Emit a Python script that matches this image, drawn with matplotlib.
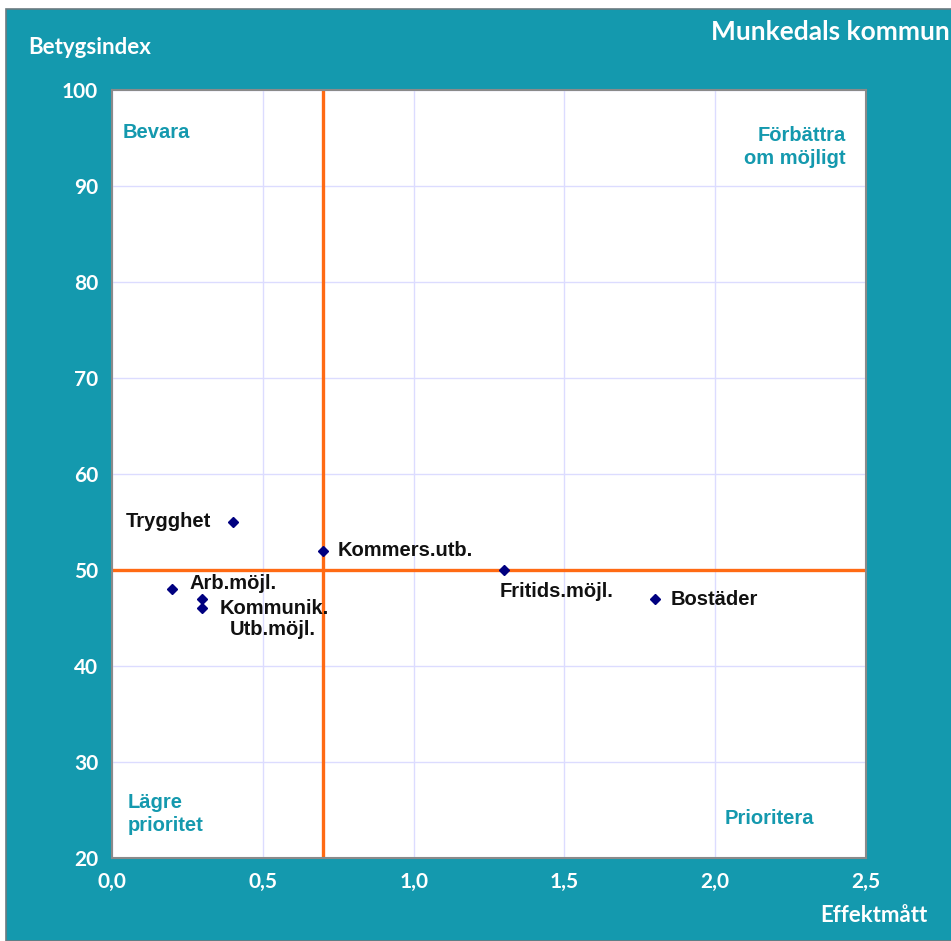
import matplotlib.pyplot as plt
from matplotlib.patches import Rectangle

# Värden
namn = ['Trygghet', 'Kommers.utb.', 'Fritids.möjl.', 'Bostäder', 'Arb.möjl.', 'Kommunik.', 'Utb.möjl.']
effekt = [0.4, 0.7, 1.3, 1.8, 0.2, 0.3, 0.3]
betyg = [55, 52, 50, 47, 48, 47, 46]
# etikettens förskjutning i pixlar och justering
forskjutning = [(-22, 0, 'right'), (15, 0, 'left'), (-4, -22, 'left'), (16, -1, 'left'),
                (17, 6, 'left'), (17, -10, 'left'), (27, -21, 'left')]
x_ticks = [0.0, 0.5, 1.0, 1.5, 2.0, 2.5]
y_ticks = [20, 30, 40, 50, 60, 70, 80, 90, 100]
medel_x = 0.7
medel_y = 50

teal = '#1499ae'
fig = plt.figure(figsize=(9.51, 9.41), dpi=100)
fig.patch.set_facecolor('white')
fig.patches.append(Rectangle((6 / 951, 0), 1, 1 - 9 / 941, transform=fig.transFigure,
                             facecolor=teal, edgecolor='#6b7a80', linewidth=1.2, zorder=-5))

ax = fig.add_axes([112 / 951, 1 - 858 / 941, 754 / 951, 768 / 941])
ax.set_facecolor('white')
ax.set_xlim(0, 2.5)
ax.set_ylim(20, 100)
ax.set_xticks(x_ticks)
ax.set_yticks(y_ticks)
ax.set_xticklabels([f'{v:.1f}'.replace('.', ',') for v in x_ticks])
ax.grid(True, color='#dcdcff', linewidth=1)
ax.set_axisbelow(True)
for s in ax.spines.values():
    s.set_color('#8a8a8a')
    s.set_linewidth(1.5)
ax.tick_params(length=0, colors='white', labelsize=15, pad=10)
for lab in ax.get_xticklabels() + ax.get_yticklabels():
    lab.set_fontfamily('Lato')
    lab.set_fontweight('bold')

ax.axvline(medel_x, color='#ff6a13', linewidth=2.4, zorder=2)
ax.axhline(medel_y, color='#ff6a13', linewidth=2.4, zorder=2)

ax.plot(effekt, betyg, linestyle='none', marker='D', markersize=5.5, color='#000080', zorder=3)
for n, x, y, (dx, dy, ha) in zip(namn, effekt, betyg, forskjutning):
    ax.annotate(n, (x, y), xytext=(dx, dy), textcoords='offset pixels', ha=ha, va='center',
                fontsize=14.5, fontweight='bold', family='Liberation Sans', color='#111111')

kv = dict(color=teal, fontsize=14.5, fontweight='bold', family='Liberation Sans')
ax.text(0.014, 0.945, 'Bevara', transform=ax.transAxes, ha='left', va='center', **kv)
ax.text(0.973, 0.926, 'Förbättra\nom möjligt', transform=ax.transAxes, ha='right', va='center',
        linespacing=1.3, **kv)
ax.text(0.021, 0.057, 'Lägre\nprioritet', transform=ax.transAxes, ha='left', va='center',
        linespacing=1.3, **kv)
ax.text(0.931, 0.051, 'Prioritera', transform=ax.transAxes, ha='right', va='center', **kv)

fig.text(28 / 951, 1 - 48 / 941, 'Betygsindex', color='white', fontsize=16, fontweight='bold',
         family='Lato', ha='left', va='center')
fig.text(711 / 951, 1 - 32 / 941, 'Munkedals kommun', color='white', fontsize=19, fontweight='bold',
         family='Lato', ha='left', va='center')
fig.text(928 / 951, 1 - 916 / 941, 'Effektmått', color='white', fontsize=16, fontweight='bold',
         family='Lato', ha='right', va='center')

fig.savefig('out.png', dpi=100)
